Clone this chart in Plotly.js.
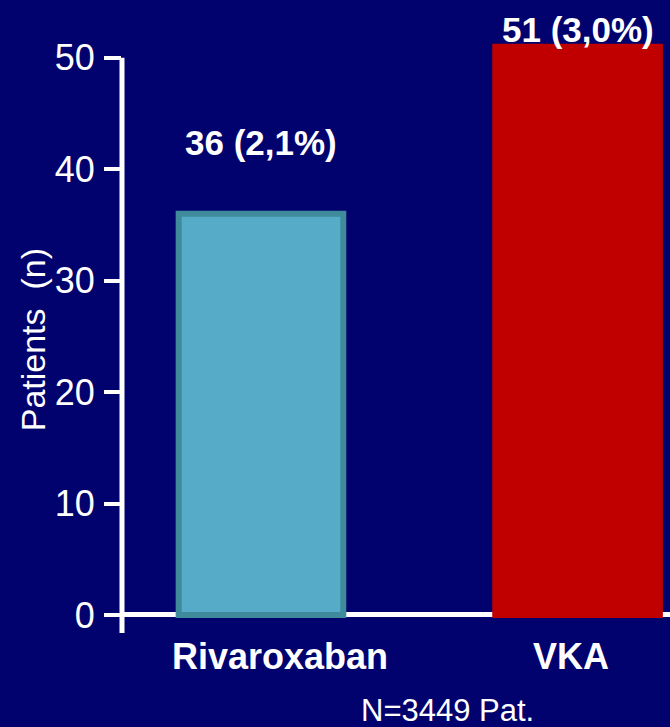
<!DOCTYPE html>
<html>
<head>
<meta charset="utf-8">
<script src="https://cdn.plot.ly/plotly-3.0.1.min.js"></script>
<style>
  html, body { margin: 0; padding: 0; background: #02026e; }
  #chart { width: 670px; height: 727px; }
</style>
</head>
<body>
<div id="chart"></div>
<script>
// Patients with events per treatment arm
const categories = ['Rivaroxaban', 'VKA'];
const patients = [36, 51];
const percents = ['2,1%', '3,0%'];
const footnote = 'N=3449 Pat.';
const yTitle = 'Patients\u00a0\u00a0(n)';

const navy = '#02026e';
const fillColors = ['#55abc8', '#c00000'];
const lineColors = ['#3f8a9b', '#c00000'];
const fontFamily = 'Liberation Sans, Arial, sans-serif';

// vertical offsets (px) of the value labels above each bar, and x nudges of category labels
const labelLift = [71, 17];
const catShift = [19, -7];

const trace = {
  type: 'bar',
  x: categories,
  y: patients,
  width: 0.52,
  marker: {
    color: fillColors,
    line: { color: lineColors, width: 6 }
  },
  hoverinfo: 'none'
};

const annotations = [];
categories.forEach((c, i) => {
  annotations.push({
    x: c, y: patients[i], xref: 'x', yref: 'y',
    text: '<b>' + patients[i] + ' (' + percents[i] + ')</b>',
    showarrow: false, yanchor: 'middle', yshift: labelLift[i],
    font: { family: fontFamily, size: 35, color: '#ffffff' }
  });
  annotations.push({
    x: c, y: -0.04, xref: 'x', yref: 'paper',
    text: '<b>' + c + '</b>',
    showarrow: false, yanchor: 'middle', xshift: catShift[i],
    font: { family: fontFamily, size: 36, color: '#ffffff' }
  });
});
annotations.push({
  x: -0.162, y: 0.494, xref: 'paper', yref: 'paper',
  text: yTitle, textangle: -90, showarrow: false,
  xanchor: 'center', yanchor: 'middle',
  font: { family: fontFamily, size: 34, color: '#ffffff' }
});
annotations.push({
  x: 0.594, y: -0.1315, xref: 'paper', yref: 'paper',
  text: footnote, showarrow: false, xanchor: 'center', yanchor: 'middle',
  font: { family: fontFamily, size: 31, color: '#ffffff' }
});

const layout = {
  width: 670, height: 727,
  margin: { l: 122, r: 0, t: 40, b: 94 },
  paper_bgcolor: navy,
  plot_bgcolor: navy,
  showlegend: false,
  xaxis: {
    type: 'category',
    range: [-0.439, 1.292],
    showticklabels: false, showline: false, showgrid: false,
    zeroline: false, ticks: ''
  },
  yaxis: {
    range: [-1.62, 51.6],
    tickmode: 'linear', tick0: 0, dtick: 10,
    ticks: 'outside', ticklen: 17, tickwidth: 4, tickcolor: '#ffffff',
    ticklabelstandoff: 2,
    tickfont: { family: fontFamily, size: 36, color: '#ffffff' },
    showgrid: false, showline: false,
    zeroline: true, zerolinecolor: '#ffffff', zerolinewidth: 5
  },
  shapes: [{
    type: 'line', layer: 'above',
    xref: 'paper', x0: 0, x1: 0,
    yref: 'y', y0: -1.62, y1: 50,
    line: { color: '#ffffff', width: 5 }
  }],
  annotations: annotations
};

Plotly.newPlot('chart', [trace], layout, { staticPlot: true, displayModeBar: false });
</script>
</body>
</html>
